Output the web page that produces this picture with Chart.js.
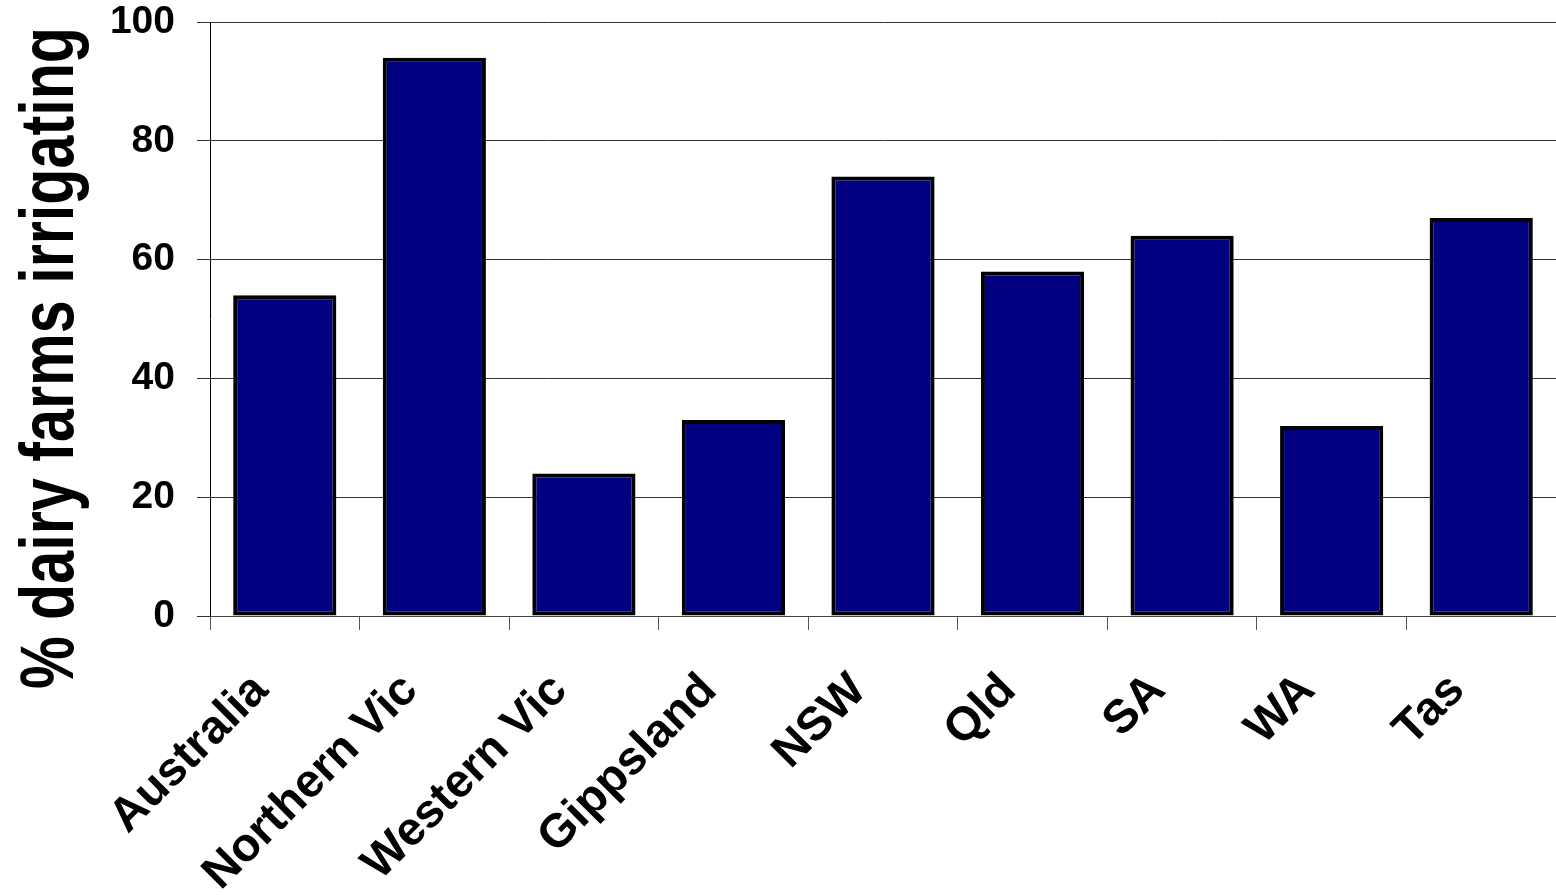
<!DOCTYPE html>
<html>
<head>
<meta charset="utf-8">
<title>Dairy farms irrigating</title>
<script src="https://cdn.jsdelivr.net/npm/chart.js@4/dist/chart.umd.min.js"></script>
<style>
  html, body { margin: 0; padding: 0; background: #fff; overflow: hidden; }
  #wrap { position: relative; width: 1556px; height: 895px; }
</style>
</head>
<body>
<div id="wrap"><canvas id="chart"></canvas></div>
<script>
// regions and share of dairy farms that irrigate (%)
const regions = ['Australia', 'Northern Vic', 'Western Vic', 'Gippsland', 'NSW', 'Qld', 'SA', 'WA', 'Tas'];
const irrigating = [54, 94, 24, 33, 74, 58, 64, 32, 67];
const yTicks = [0, 20, 40, 60, 80, 100];
const yTitle = '% dairy farms irrigating';

const FONT = '"Liberation Sans", Arial, sans-serif';

// the axis title is a stretched text box, so draw it by hand
const axisTitle = {
    id: 'axisTitle',
    afterDraw: function (chart) {
        const ctx = chart.ctx;
        ctx.save();
        ctx.translate(73, 358);
        ctx.rotate(-Math.PI / 2);
        ctx.scale(0.78, 1);
        ctx.font = 'bold 76px ' + FONT;
        ctx.fillStyle = '#000';
        ctx.textAlign = 'center';
        ctx.textBaseline = 'alphabetic';
        ctx.fillText(yTitle, 0, 0);
        ctx.restore();
    }
};

new Chart(document.getElementById('chart'), {
    type: 'bar',
    data: {
        labels: regions,
        datasets: [{
            data: irrigating,
            backgroundColor: '#000080',
            borderColor: '#000',
            borderWidth: 4,
            borderSkipped: false,
            barPercentage: 0.69,
            categoryPercentage: 1
        }]
    },
    options: {
        responsive: true,
        maintainAspectRatio: false,
        animation: false,
        layout: { padding: 0 },
        plugins: {
            legend: { display: false },
            tooltip: { enabled: false }
        },
        scales: {
            x: {
                afterFit: function (scale) { scale.height = 279; },
                grid: {
                    offset: true,
                    drawOnChartArea: false,
                    drawTicks: true,
                    tickLength: 14,
                    color: '#555'
                },
                border: { color: '#444', width: 1 },
                ticks: {
                    autoSkip: false,
                    minRotation: 45,
                    maxRotation: 45,
                    padding: 33,
                    labelOffset: -24,
                    color: '#000',
                    font: { family: FONT, size: 47, weight: 'bold' }
                }
            },
            y: {
                min: 0,
                max: 100,
                afterFit: function (scale) {
                    scale.width = 210;
                    scale.paddingTop = 22;
                    scale.paddingBottom = 0;
                },
                afterBuildTicks: function (scale) {
                    scale.ticks = yTicks.map(function (v) { return { value: v }; });
                },
                grid: {
                    color: '#333',
                    lineWidth: 1,
                    tickLength: 13
                },
                border: { color: '#000', width: 1 },
                ticks: {
                    padding: 22,
                    color: '#000',
                    font: { family: FONT, size: 39, weight: 'bold', lineHeight: 1.1 }
                }
            }
        }
    },
    plugins: [axisTitle]
});
</script>
</body>
</html>
